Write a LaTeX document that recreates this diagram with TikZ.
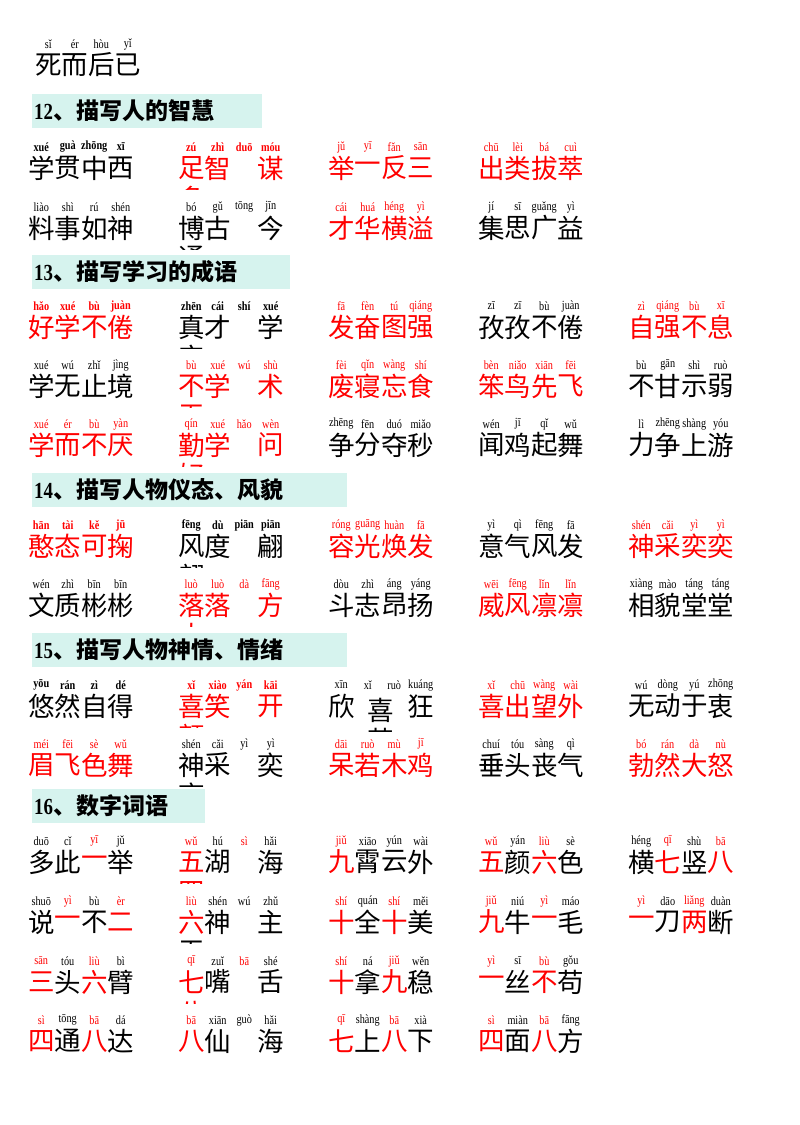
\documentclass[tikz,border=0pt]{standalone}
\usepackage{fontspec}
\newfontfamily\cjk{Noto Sans CJK SC}
\newfontfamily\py[FakeStretch=0.82]{Liberation Serif}
\colorlet{r}{red}\colorlet{k}{black}
\definecolor{mint}{HTML}{D6F3EE}
\newcount\idn
\newcommand\idiom[4][]{\global\advance\idn1
 \foreach \c/\p/\h [count=\i] in {#4}{
  \node[hz,text=\c] (h\the\idn-\i) at ({#2+13.25+26.5*(\i-1)},#3) {\h};
  \node[pyn,text=\c,#1] (p\the\idn-\i) at ({#2+13.25+26.5*(\i-1)},#3-21) {\p};}}
\newcommand\cut[4]{\global\advance\idn1\begin{scope}\clip ({#1+13.25-15},#2+14) rectangle ({#1+13.25+15},#2+21);
 \node[hz,text=#3] (cut\the\idn) at ({#1+13.25},#2+30){#4};\end{scope}}
\newcommand\head[5]{\global\advance\idn1
 \fill[mint] (32,#2-17) rectangle (#3,#2+17);
 \node[anchor=west,inner sep=0pt,font=\cjk\fontsize{23}{23}\selectfont\bfseries] (hd\the\idn) at (34,#2) {{\py\bfseries #4}#5};}
\begin{document}
\begin{tikzpicture}[x=1pt,y=-1pt,
 hz/.style={inner sep=0pt,font=\cjk\fontsize{26.5}{26.5}\selectfont},
 pyn/.style={inner sep=0pt,font=\py\fontsize{12.5}{12.5}\selectfont},
 pb/.style={font=\py\fontsize{12.5}{12.5}\selectfont\bfseries}]
\useasboundingbox (0,0) rectangle (800,1125);
\idiom{35}{65}{k/sǐ/死,k/ér/而,k/hòu/后,k/yǐ/已}
\head{12}{111}{262}{12}{、描写人的智慧}
\idiom[pb]{28}{168}{k/xué/学,k/guà/贯,k/zhōng/中,k/xī/西}
\idiom[pb]{178}{168}{r/zú/足,r/zhì/智,r/duō/{},r/móu/谋}\cut{178}{168}{r}{多}
\idiom{328}{168}{r/jǔ/举,r/yī/一,r/fǎn/反,r/sān/三}
\idiom{478}{168}{r/chū/出,r/lèi/类,r/bá/拔,r/cuì/萃}
\idiom{28}{228}{k/liào/料,k/shì/事,k/rú/如,k/shén/神}
\idiom{178}{228}{k/bó/博,k/gǔ/古,k/tōng/{},k/jīn/今}\cut{178}{228}{k}{通}
\idiom{328}{228}{r/cái/才,r/huá/华,r/héng/横,r/yì/溢}
\idiom{478}{228}{k/jí/集,k/sī/思,k/guǎng/广,k/yì/益}
\head{13}{272}{290}{13}{、描写学习的成语}
\idiom[pb]{28}{327}{r/hǎo/好,r/xué/学,r/bù/不,r/juàn/倦}
\idiom[pb]{178}{327}{k/zhēn/真,k/cái/才,k/shí/{},k/xué/学}\cut{178}{327}{k}{实}
\idiom{328}{327}{r/fā/发,r/fèn/奋,r/tú/图,r/qiáng/强}
\idiom{478}{327}{k/zī/孜,k/zī/孜,k/bù/不,k/juàn/倦}
\idiom{628}{327}{r/zì/自,r/qiáng/强,r/bù/不,r/xī/息}
\idiom{28}{386}{k/xué/学,k/wú/无,k/zhǐ/止,k/jìng/境}
\idiom{178}{386}{r/bù/不,r/xué/学,r/wú/{},r/shù/术}\cut{178}{386}{r}{无}
\idiom{328}{386}{r/fèi/废,r/qǐn/寝,r/wàng/忘,r/shí/食}
\idiom{478}{386}{r/bèn/笨,r/niǎo/鸟,r/xiān/先,r/fēi/飞}
\idiom{628}{386}{k/bù/不,k/gān/甘,k/shì/示,k/ruò/弱}
\idiom{28}{445}{r/xué/学,r/ér/而,r/bù/不,r/yàn/厌}
\idiom{178}{445}{r/qín/勤,r/xué/学,r/hǎo/{},r/wèn/问}\cut{178}{445}{r}{好}
\idiom{328}{445}{k/zhēng/争,k/fēn/分,k/duó/夺,k/miǎo/秒}
\idiom{478}{445}{k/wén/闻,k/jī/鸡,k/qǐ/起,k/wǔ/舞}
\idiom{628}{445}{k/lì/力,k/zhēng/争,k/shàng/上,k/yóu/游}
\head{14}{490}{347}{14}{、描写人物仪态、风貌}
\idiom[pb]{28}{546}{r/hān/憨,r/tài/态,r/kě/可,r/jū/掬}
\idiom[pb]{178}{546}{k/fēng/风,k/dù/度,k/piān/{},k/piān/翩}\cut{178}{546}{k}{翩}
\idiom{328}{546}{r/róng/容,r/guāng/光,r/huàn/焕,r/fā/发}
\idiom{478}{546}{k/yì/意,k/qì/气,k/fēng/风,k/fā/发}
\idiom{628}{546}{r/shén/神,r/cǎi/采,r/yì/奕,r/yì/奕}
\idiom{28}{605}{k/wén/文,k/zhì/质,k/bīn/彬,k/bīn/彬}
\idiom{178}{605}{r/luò/落,r/luò/落,r/dà/{},r/fāng/方}\cut{178}{605}{r}{大}
\idiom{328}{605}{k/dòu/斗,k/zhì/志,k/áng/昂,k/yáng/扬}
\idiom{478}{605}{r/wēi/威,r/fēng/风,r/lǐn/凛,r/lǐn/凛}
\idiom{628}{605}{k/xiàng/相,k/mào/貌,k/táng/堂,k/táng/堂}
\head{15}{650}{347}{15}{、描写人物神情、情绪}
\idiom[pb]{28}{706}{k/yōu/悠,k/rán/然,k/zì/自,k/dé/得}
\idiom[pb]{178}{706}{r/xǐ/喜,r/xiào/笑,r/yán/{},r/kāi/开}\cut{178}{706}{r}{颜}
\idiom{328}{706}{k/xīn/欣,k/xǐ/{},k/ruò/{},k/kuáng/狂}
\node[hz] (xi15) at (381,710) {喜};\cut{367.75}{710}{k}{若}
\idiom{478}{706}{r/xǐ/喜,r/chū/出,r/wàng/望,r/wài/外}
\idiom{628}{706}{k/wú/无,k/dòng/动,k/yú/于,k/zhōng/衷}
\idiom{28}{765}{r/méi/眉,r/fēi/飞,r/sè/色,r/wǔ/舞}
\idiom{178}{765}{k/shén/神,k/cǎi/采,k/yì/{},k/yì/奕}\cut{178}{765}{k}{奕}
\idiom{328}{765}{r/dāi/呆,r/ruò/若,r/mù/木,r/jī/鸡}
\idiom{478}{765}{k/chuí/垂,k/tóu/头,k/sàng/丧,k/qì/气}
\idiom{628}{765}{r/bó/勃,r/rán/然,r/dà/大,r/nù/怒}
\head{16}{806}{205}{16}{、数字词语}
\idiom{28}{862}{k/duō/多,k/cǐ/此,r/yī/一,k/jǔ/举}
\idiom{178}{862}{r/wǔ/五,k/hú/湖,r/sì/{},k/hǎi/海}\cut{178}{862}{r}{四}
\idiom{328}{862}{r/jiǔ/九,k/xiāo/霄,k/yún/云,k/wài/外}
\idiom{478}{862}{r/wǔ/五,k/yán/颜,r/liù/六,k/sè/色}
\idiom{628}{862}{k/héng/横,r/qī/七,k/shù/竖,r/bā/八}
\idiom{28}{922}{k/shuō/说,r/yì/一,k/bù/不,r/èr/二}
\idiom{178}{922}{r/liù/六,k/shén/神,k/wú/{},k/zhǔ/主}\cut{178}{922}{k}{无}
\idiom{328}{922}{r/shí/十,k/quán/全,r/shí/十,k/měi/美}
\idiom{478}{922}{r/jiǔ/九,k/niú/牛,r/yì/一,k/máo/毛}
\idiom{628}{922}{r/yì/一,k/dāo/刀,r/liǎng/两,k/duàn/断}
\idiom{28}{982}{r/sān/三,k/tóu/头,r/liù/六,k/bì/臂}
\idiom{178}{982}{r/qī/七,k/zuǐ/嘴,r/bā/{},k/shé/舌}\cut{178}{982}{r}{八}
\idiom{328}{982}{r/shí/十,k/ná/拿,r/jiǔ/九,k/wěn/稳}
\idiom{478}{982}{r/yì/一,k/sī/丝,r/bù/不,k/gǒu/苟}
\idiom{28}{1041}{r/sì/四,k/tōng/通,r/bā/八,k/dá/达}
\idiom{178}{1041}{r/bā/八,k/xiān/仙,k/guò/{},k/hǎi/海}
\idiom{328}{1041}{r/qī/七,k/shàng/上,r/bā/八,k/xià/下}
\idiom{478}{1041}{r/sì/四,k/miàn/面,r/bā/八,k/fāng/方}
\end{tikzpicture}
\end{document}
